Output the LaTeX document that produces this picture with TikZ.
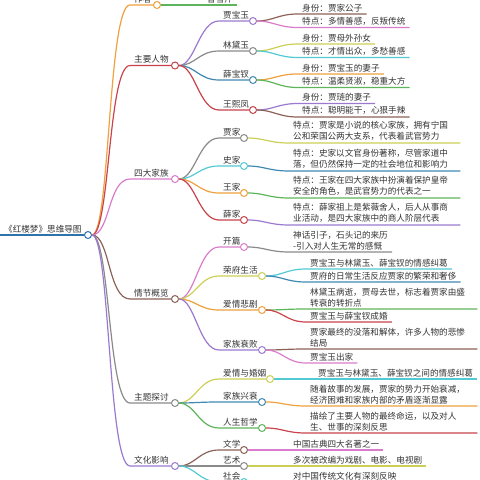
\documentclass[tikz,border=0pt]{standalone}
\usepackage{fontspec}
\newfontfamily\zh{Noto Sans CJK SC}
\newcommand\zhfont{\zh\fontsize{8.6}{11}\selectfont}
\definecolor{cblue}{HTML}{2F72AE}
\definecolor{corange}{HTML}{F0A03C}
\definecolor{cred}{HTML}{C8434B}
\definecolor{cpink}{HTML}{DA7CCB}
\definecolor{cbrown}{HTML}{8C6157}
\definecolor{cgray}{HTML}{8A8A8A}
\definecolor{cpurple}{HTML}{9B79CF}
\definecolor{cgreen}{HTML}{5DB45A}
\definecolor{cyellow}{HTML}{CBCF55}
\definecolor{ccyan}{HTML}{52C9D3}
\definecolor{cteal}{HTML}{3F89B3}
\definecolor{txt}{HTML}{333333}
\begin{document}
\begin{tikzpicture}[x=1pt,y=-1pt,
				topic/.style={anchor=south west,inner xsep=4pt,inner ysep=2pt,text=txt,font=\zhfont},
				para/.style={topic,align=left,text width=163pt},
				knob/.style={circle,draw=#1,fill=white,line width=1pt,inner sep=0pt,minimum size=7pt},
				link/.style={draw=#1,line width=1.2pt}]
\useasboundingbox (0,0) rectangle (480,480);
\clip (0,0) rectangle (480,480);
\node[topic] (root) at (0,235) {《红楼梦》思维导图};
\node[knob=cblue] (root-o) at (88,235) {};
\draw[link=cblue,line width=1.8pt] (root.south west) -- (root-o);
% first level
\node[topic] (author) at (130,5) {作者};
\node[knob=corange] (author-o) at (157,5) {};
\node[topic] (roles) at (130,65.5) {主要人物};
\node[knob=cred] (roles-o) at (175,65.5) {};
\node[topic] (clans) at (130,179) {四大家族};
\node[knob=cpink] (clans-o) at (175,179) {};
\node[topic] (plot) at (130,299) {情节概览};
\node[knob=cbrown] (plot-o) at (175,299) {};
\node[topic] (theme) at (130,403) {主题探讨};
\node[knob=cgray] (theme-o) at (175,403) {};
\node[topic] (culture) at (130,466) {文化影响};
\node[knob=cpurple] (culture-o) at (175,466) {};
\draw[link=corange] (root-o) .. controls +(22,0) and +(-22,0) .. (author.south west) -- (author-o);
\draw[link=cred] (root-o) .. controls +(22,0) and +(-22,0) .. (roles.south west) -- (roles-o);
\draw[link=cpink] (root-o) .. controls +(22,0) and +(-22,0) .. (clans.south west) -- (clans-o);
\draw[link=cbrown] (root-o) .. controls +(22,0) and +(-22,0) .. (plot.south west) -- (plot-o);
\draw[link=cgray] (root-o) .. controls +(22,0) and +(-22,0) .. (theme.south west) -- (theme-o);
\draw[link=cpurple] (root-o) .. controls +(22,0) and +(-22,0) .. (culture.south west) -- (culture-o);
% author
\node[topic] (cxq) at (203,5) {曹雪芹};
\draw[link=cgreen] (author-o) -- (cxq.south west) -- (cxq.south east);
% main characters
\node[topic] (bao) at (219,21) {贾宝玉};
\node[knob=cpurple] (bao-o) at (253,21) {};
\node[topic] (dai) at (219,51) {林黛玉};
\node[knob=cgray] (dai-o) at (253,51) {};
\node[topic] (chai) at (219,80) {薛宝钗};
\node[knob=cteal] (chai-o) at (253,80) {};
\node[topic] (feng) at (219,110) {王熙凤};
\node[knob=cred] (feng-o) at (253,110) {};
\draw[link=cpurple] (roles-o) .. controls +(20,0) and +(-20,0) .. (bao.south west) -- (bao-o);
\draw[link=cgray] (roles-o) .. controls +(20,0) and +(-20,0) .. (dai.south west) -- (dai-o);
\draw[link=cteal] (roles-o) .. controls +(20,0) and +(-20,0) .. (chai.south west) -- (chai-o);
\draw[link=cred] (roles-o) .. controls +(20,0) and +(-20,0) .. (feng.south west) -- (feng-o);
\node[topic] (bao-a) at (298,14) {身份：贾家公子};
\node[topic] (bao-b) at (298,27.5) {特点：多情善感，反叛传统};
\node[topic] (dai-a) at (298,44) {身份：贾母外孙女};
\node[topic] (dai-b) at (298,57.5) {特点：才情出众，多愁善感};
\node[topic] (chai-a) at (298,74) {身份：贾宝玉的妻子};
\node[topic] (chai-b) at (298,87.5) {特点：温柔贤淑，稳重大方};
\node[topic] (feng-a) at (298,103.5) {身份：贾琏的妻子};
\node[topic] (feng-b) at (298,117) {特点：聪明能干，心狠手辣};
\draw[link=cbrown] (bao-o) .. controls +(20,0) and +(-20,0) .. (bao-a.south west) -- (bao-a.south east);
\draw[link=cpink] (bao-o) .. controls +(20,0) and +(-20,0) .. (bao-b.south west) -- (bao-b.south east);
\draw[link=cyellow] (dai-o) .. controls +(20,0) and +(-20,0) .. (dai-a.south west) -- (dai-a.south east);
\draw[link=ccyan] (dai-o) .. controls +(20,0) and +(-20,0) .. (dai-b.south west) -- (dai-b.south east);
\draw[link=corange] (chai-o) .. controls +(20,0) and +(-20,0) .. (chai-a.south west) -- (chai-a.south east);
\draw[link=cgreen] (chai-o) .. controls +(20,0) and +(-20,0) .. (chai-b.south west) -- (chai-b.south east);
\draw[link=cpurple] (feng-o) .. controls +(20,0) and +(-20,0) .. (feng-a.south west) -- (feng-a.south east);
\draw[link=cbrown] (feng-o) .. controls +(20,0) and +(-20,0) .. (feng-b.south west) -- (feng-b.south east);
% four families
\node[topic] (jia) at (219,138) {贾家};
\node[knob=cgray] (jia-o) at (244,138) {};
\node[topic] (shi) at (219,166) {史家};
\node[knob=ccyan] (shi-o) at (244,166) {};
\node[topic] (wang) at (219,193) {王家};
\node[knob=corange] (wang-o) at (244,193) {};
\node[topic] (xue) at (219,220) {薛家};
\node[knob=cred] (xue-o) at (244,220) {};
\draw[link=cgray] (clans-o) .. controls +(20,0) and +(-20,0) .. (jia.south west) -- (jia-o);
\draw[link=ccyan] (clans-o) .. controls +(20,0) and +(-20,0) .. (shi.south west) -- (shi-o);
\draw[link=corange] (clans-o) .. controls +(20,0) and +(-20,0) .. (wang.south west) -- (wang-o);
\draw[link=cred] (clans-o) .. controls +(20,0) and +(-20,0) .. (xue.south west) -- (xue-o);
\node[para] (jia-a) at (289,143) {特点：贾家是小说的核心家族，拥有宁国\\公和荣国公两大支系，代表着武官势力};
\node[para] (shi-a) at (289,171) {特点：史家以文官身份著称，尽管家道中\\落，但仍然保持一定的社会地位和影响力};
\node[para] (wang-a) at (289,198) {特点：王家在四大家族中扮演着保护皇帝\\安全的角色，是武官势力的代表之一};
\node[para] (xue-a) at (289,225) {特点：薛家祖上是紫薇舍人，后人从事商\\业活动，是四大家族中的商人阶层代表};
\draw[link=cyellow] (jia-o) .. controls +(20,0) and +(-20,0) .. (jia-a.south west) -- (jia-a.south east);
\draw[link=cteal] (shi-o) .. controls +(20,0) and +(-20,0) .. (shi-a.south west) -- (shi-a.south east);
\draw[link=cgreen] (wang-o) .. controls +(20,0) and +(-20,0) .. (wang-a.south west) -- (wang-a.south east);
\draw[link=cpurple] (xue-o) .. controls +(20,0) and +(-20,0) .. (xue-a.south west) -- (xue-a.south east);
% plot
\node[topic] (open) at (219,247) {开篇};
\node[knob=cpink] (open-o) at (244,247) {};
\node[topic] (life) at (219,276) {荣府生活};
\node[knob=cyellow] (life-o) at (262,276) {};
\node[topic] (love) at (219,310) {爱情悲剧};
\node[knob=corange] (love-o) at (262,310) {};
\node[topic] (fall) at (219,350) {家族衰败};
\node[knob=cpurple] (fall-o) at (262,350) {};
\draw[link=cpink] (plot-o) .. controls +(20,0) and +(-20,0) .. (open.south west) -- (open-o);
\draw[link=cyellow] (plot-o) .. controls +(20,0) and +(-20,0) .. (life.south west) -- (life-o);
\draw[link=corange] (plot-o) .. controls +(20,0) and +(-20,0) .. (love.south west) -- (love-o);
\draw[link=cpurple] (plot-o) .. controls +(20,0) and +(-20,0) .. (fall.south west) -- (fall-o);
\node[topic,align=left] (open-a) at (289,252) {神话引子，石头记的来历\\-引入对人生无常的感慨};
\node[topic] (life-a) at (306,269) {贾宝玉与林黛玉、薛宝钗的情感纠葛};
\node[topic] (life-b) at (306,282) {贾府的日常生活反应贾家的繁荣和奢侈};
\node[para] (love-a) at (306,309) {林黛玉病逝，贾母去世，标志着贾家由盛\\转衰的转折点};
\node[topic] (love-b) at (306,322) {贾宝玉与薛宝钗成婚};
\node[para] (fall-a) at (306,349) {贾家最终的没落和解体，许多人物的悲惨\\结局};
\node[topic] (fall-b) at (306,363) {贾宝玉出家};
\draw[link=cgray] (open-o) .. controls +(20,0) and +(-20,0) .. (open-a.south west) -- (open-a.south east);
\draw[link=ccyan] (life-o) .. controls +(20,0) and +(-20,0) .. (life-a.south west) -- (life-a.south east);
\draw[link=cteal] (life-o) .. controls +(20,0) and +(-20,0) .. (life-b.south west) -- (life-b.south east);
\draw[link=cgreen] (love-o) .. controls +(20,0) and +(-20,0) .. (love-a.south west) -- (love-a.south east);
\draw[link=cred] (love-o) .. controls +(20,0) and +(-20,0) .. (love-b.south west) -- (love-b.south east);
\draw[link=cbrown] (fall-o) .. controls +(20,0) and +(-20,0) .. (fall-a.south west) -- (fall-a.south east);
\draw[link=cpink] (fall-o) .. controls +(20,0) and +(-20,0) .. (fall-b.south west) -- (fall-b.south east);
% themes
\node[topic] (marry) at (219,379) {爱情与婚姻};
\node[knob=cyellow] (marry-o) at (270,379) {};
\node[topic] (rise) at (219,402) {家族兴衰};
\node[knob=cteal] (rise-o) at (262,402) {};
\node[topic] (phil) at (219,428) {人生哲学};
\node[knob=cgreen] (phil-o) at (262,428) {};
\draw[link=cyellow] (theme-o) .. controls +(20,0) and +(-20,0) .. (marry.south west) -- (marry-o);
\draw[link=cteal] (theme-o) .. controls +(20,0) and +(-20,0) .. (rise.south west) -- (rise-o);
\draw[link=cgreen] (theme-o) .. controls +(20,0) and +(-20,0) .. (phil.south west) -- (phil-o);
\node[topic] (marry-a) at (314,379) {贾宝玉与林黛玉、薛宝钗之间的情感纠葛};
\node[para] (rise-a) at (306,406) {随着故事的发展，贾家的势力开始衰减，\\经济困难和家族内部的矛盾逐渐显露};
\node[para] (phil-a) at (306,433) {描绘了主要人物的最终命运，以及对人\\生、世事的深刻反思};
\draw[link=ccyan] (marry-o) -- (marry-a.south west) -- (marry-a.south east);
\draw[link=corange] (rise-o) .. controls +(20,0) and +(-20,0) .. (rise-a.south west) -- (rise-a.south east);
\draw[link=cred] (phil-o) .. controls +(20,0) and +(-20,0) .. (phil-a.south west) -- (phil-a.south east);
% culture
\node[topic] (lit) at (219,450) {文学};
\node[knob=cbrown] (lit-o) at (244,450) {};
\node[topic] (art) at (219,466) {艺术};
\node[knob=cgray] (art-o) at (244,466) {};
\node[topic] (soc) at (219,482) {社会};
\node[knob=ccyan] (soc-o) at (244,482) {};
\draw[link=cbrown] (culture-o) .. controls +(20,0) and +(-20,0) .. (lit.south west) -- (lit-o);
\draw[link=cgray] (culture-o) .. controls +(20,0) and +(-20,0) .. (art.south west) -- (art-o);
\draw[link=ccyan] (culture-o) .. controls +(20,0) and +(-20,0) .. (soc.south west) -- (soc-o);
\node[topic] (lit-a) at (289,450) {中国古典四大名著之一};
\node[topic] (art-a) at (289,466) {多次被改编为戏剧、电影、电视剧};
\node[topic] (soc-a) at (289,482) {对中国传统文化有深刻反映};
\draw[link=cpink] (lit-o) .. controls +(20,0) and +(-20,0) .. (lit-a.south west) -- (lit-a.south east);
\draw[link=cyellow] (art-o) .. controls +(20,0) and +(-20,0) .. (art-a.south west) -- (art-a.south east);
\draw[link=cbrown] (soc-o) .. controls +(20,0) and +(-20,0) .. (soc-a.south west) -- (soc-a.south east);
\end{tikzpicture}
\end{document}
